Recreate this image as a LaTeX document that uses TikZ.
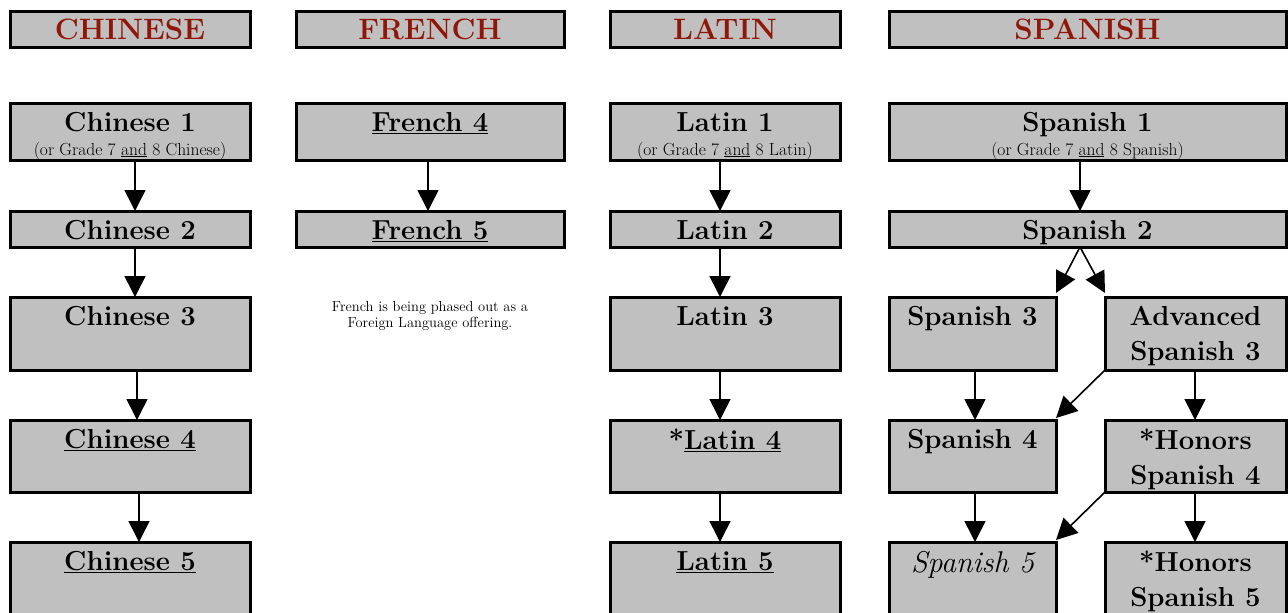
\documentclass[tikz,border=0pt]{standalone}
\usetikzlibrary{arrows.meta}

\definecolor{boxgray}{RGB}{192,192,192}
\definecolor{headred}{RGB}{145,22,10}

\tikzset{
  course/.style 2 args={draw, line width=3pt, fill=boxgray, anchor=north west,
    minimum width=#1pt, minimum height=#2pt, inner sep=0pt, outer sep=0pt},
  head/.style={course={#1}{36}, text=headred, font=\fontsize{29.5}{31}\selectfont\bfseries},
  ctext/.style={anchor=north, inner sep=0pt, align=center, font=\fontsize{27.5}{35}\selectfont\bfseries},
  subtext/.style={anchor=base, inner sep=0pt, font=\fontsize{17.5}{19}\selectfont},
  arr/.style={line width=1.6pt, -{Triangle[length=21pt,width=21pt]}},
}

\begin{document}
\begin{tikzpicture}[x=1pt, y=-1pt]
\useasboundingbox (0,0) rectangle (1288,613);
\clip (0,0) rectangle (1288,613);
% headings
\node (hchi) at (10,11) [head=240] {CHINESE};
\node (hfre) at (296,11) [head=268] {FRENCH};
\node (hlat) at (610,11) [head=230] {LATIN};
\node (hspa) at (889,11) [head=397] {SPANISH};
% Chinese
\node (chi1) at (10,103) [course={240}{57}] {};
\node (chi2) at (10,211) [course={240}{36}] {};
\node (chi3) at (10,297) [course={240}{73}] {};
\node (chi4) at (10,420) [course={240}{72}] {};
\node (chi5) at (10,542) [course={240}{80}] {};
\node (chi1t) at ([yshift=-9pt]chi1.north) [ctext] {Chinese 1};
\node (chi1s) at ([yshift=5pt]chi1.south) [subtext] {(or Grade 7 \underline{and} 8 Chinese)};
\node (chi2t) at ([yshift=-9pt]chi2.north) [ctext] {Chinese 2};
\node (chi3t) at ([yshift=-9pt]chi3.north) [ctext] {Chinese 3};
\node (chi4t) at ([yshift=-9pt]chi4.north) [ctext] {\underline{Chinese 4}};
\node (chi5t) at ([yshift=-9pt]chi5.north) [ctext] {\underline{Chinese 5}};
% French
\node (fre4) at (296,103) [course={268}{57}] {};
\node (fre5) at (296,211) [course={268}{36}] {};
\node (fre4t) at ([yshift=-9pt]fre4.north) [ctext] {\underline{French 4}};
\node (fre5t) at ([yshift=-9pt]fre5.north) [ctext] {\underline{French 5}};
\node (frenote) at (430,301) [anchor=north, inner sep=0pt, align=center, font=\fontsize{14.5}{16.5}\selectfont]
  {French is being phased out as a\\Foreign Language offering.};
% Latin
\node (lat1) at (610,103) [course={230}{57}] {};
\node (lat2) at (610,211) [course={230}{36}] {};
\node (lat3) at (610,297) [course={230}{73}] {};
\node (lat4) at (610,420) [course={230}{72}] {};
\node (lat5) at (610,542) [course={230}{80}] {};
\node (lat1t) at ([yshift=-9pt]lat1.north) [ctext] {Latin 1};
\node (lat1s) at ([yshift=5pt]lat1.south) [subtext] {(or Grade 7 \underline{and} 8 Latin)};
\node (lat2t) at ([yshift=-9pt]lat2.north) [ctext] {Latin 2};
\node (lat3t) at ([yshift=-9pt]lat3.north) [ctext] {Latin 3};
\node (lat4t) at ([yshift=-9pt]lat4.north) [ctext] {*\underline{Latin 4}};
\node (lat5t) at ([yshift=-9pt]lat5.north) [ctext] {\underline{Latin 5}};
% Spanish
\node (spa1) at (889,103) [course={397}{57}] {};
\node (spa2) at (889,211) [course={397}{36}] {};
\node (spa3) at (889,297) [course={167}{73}] {};
\node (adv3) at (1105,297) [course={181}{73}] {};
\node (spa4) at (889,420) [course={167}{72}] {};
\node (hon4) at (1105,420) [course={181}{72}] {};
\node (spa5) at (889,542) [course={167}{80}] {};
\node (hon5) at (1105,542) [course={181}{80}] {};
\node (spa1t) at ([yshift=-9pt]spa1.north) [ctext] {Spanish 1};
\node (spa1s) at ([yshift=5pt]spa1.south) [subtext] {(or Grade 7 \underline{and} 8 Spanish)};
\node (spa2t) at ([yshift=-9pt]spa2.north) [ctext] {Spanish 2};
\node (spa3t) at ([yshift=-9pt]spa3.north) [ctext] {Spanish 3};
\node (adv3t) at ([yshift=-9pt]adv3.north) [ctext] {Advanced\\Spanish 3};
\node (spa4t) at ([yshift=-9pt]spa4.north) [ctext] {Spanish 4};
\node (hon4t) at ([yshift=-9pt]hon4.north) [ctext] {*Honors\\Spanish 4};
\node (spa5t) at ([yshift=-9pt]spa5.north) [ctext, font=\fontsize{30}{35}\selectfont\itshape] {Spanish 5};
\node (hon5t) at ([yshift=-9pt]hon5.north) [ctext] {*Honors\\Spanish 5};
% arrows
\draw[arr] ([xshift=5pt]chi1.south) -- ([xshift=5pt]chi2.north);
\draw[arr] ([xshift=5pt]chi2.south) -- ([xshift=5pt]chi3.north);
\draw[arr] ([xshift=7pt]chi3.south) -- ([xshift=7pt]chi4.north);
\draw[arr] ([xshift=9pt]chi4.south) -- ([xshift=9pt]chi5.north);
\draw[arr] ([xshift=-2pt]fre4.south) -- ([xshift=-2pt]fre5.north);
\draw[arr] ([xshift=-5pt]lat1.south) -- ([xshift=-5pt]lat2.north);
\draw[arr] ([xshift=-5pt]lat2.south) -- ([xshift=-5pt]lat3.north);
\draw[arr] ([xshift=-5pt]lat3.south) -- ([xshift=-5pt]lat4.north);
\draw[arr] ([xshift=-5pt]lat4.south) -- ([xshift=-5pt]lat5.north);
\draw[arr] ([xshift=-7.5pt]spa1.south) -- ([xshift=-7.5pt]spa2.north);
\draw[arr] ([xshift=-7.5pt]spa2.south) -- ([yshift=4pt]spa3.north east);
\draw[arr] ([xshift=-7.5pt]spa2.south) -- ([yshift=4pt]adv3.north west);
\draw[arr] ([xshift=2.5pt]spa3.south) -- ([xshift=2.5pt]spa4.north);
\draw[arr] (adv3.south west) -- ([yshift=2pt]spa4.north east);
\draw[arr] ([xshift=-0.5pt]adv3.south) -- ([xshift=-0.5pt]hon4.north);
\draw[arr] ([xshift=2.5pt]spa4.south) -- ([xshift=2.5pt]spa5.north);
\draw[arr] (hon4.south west) -- ([yshift=2pt]spa5.north east);
\draw[arr] ([xshift=-0.5pt]hon4.south) -- ([xshift=-0.5pt]hon5.north);
\end{tikzpicture}
\end{document}
